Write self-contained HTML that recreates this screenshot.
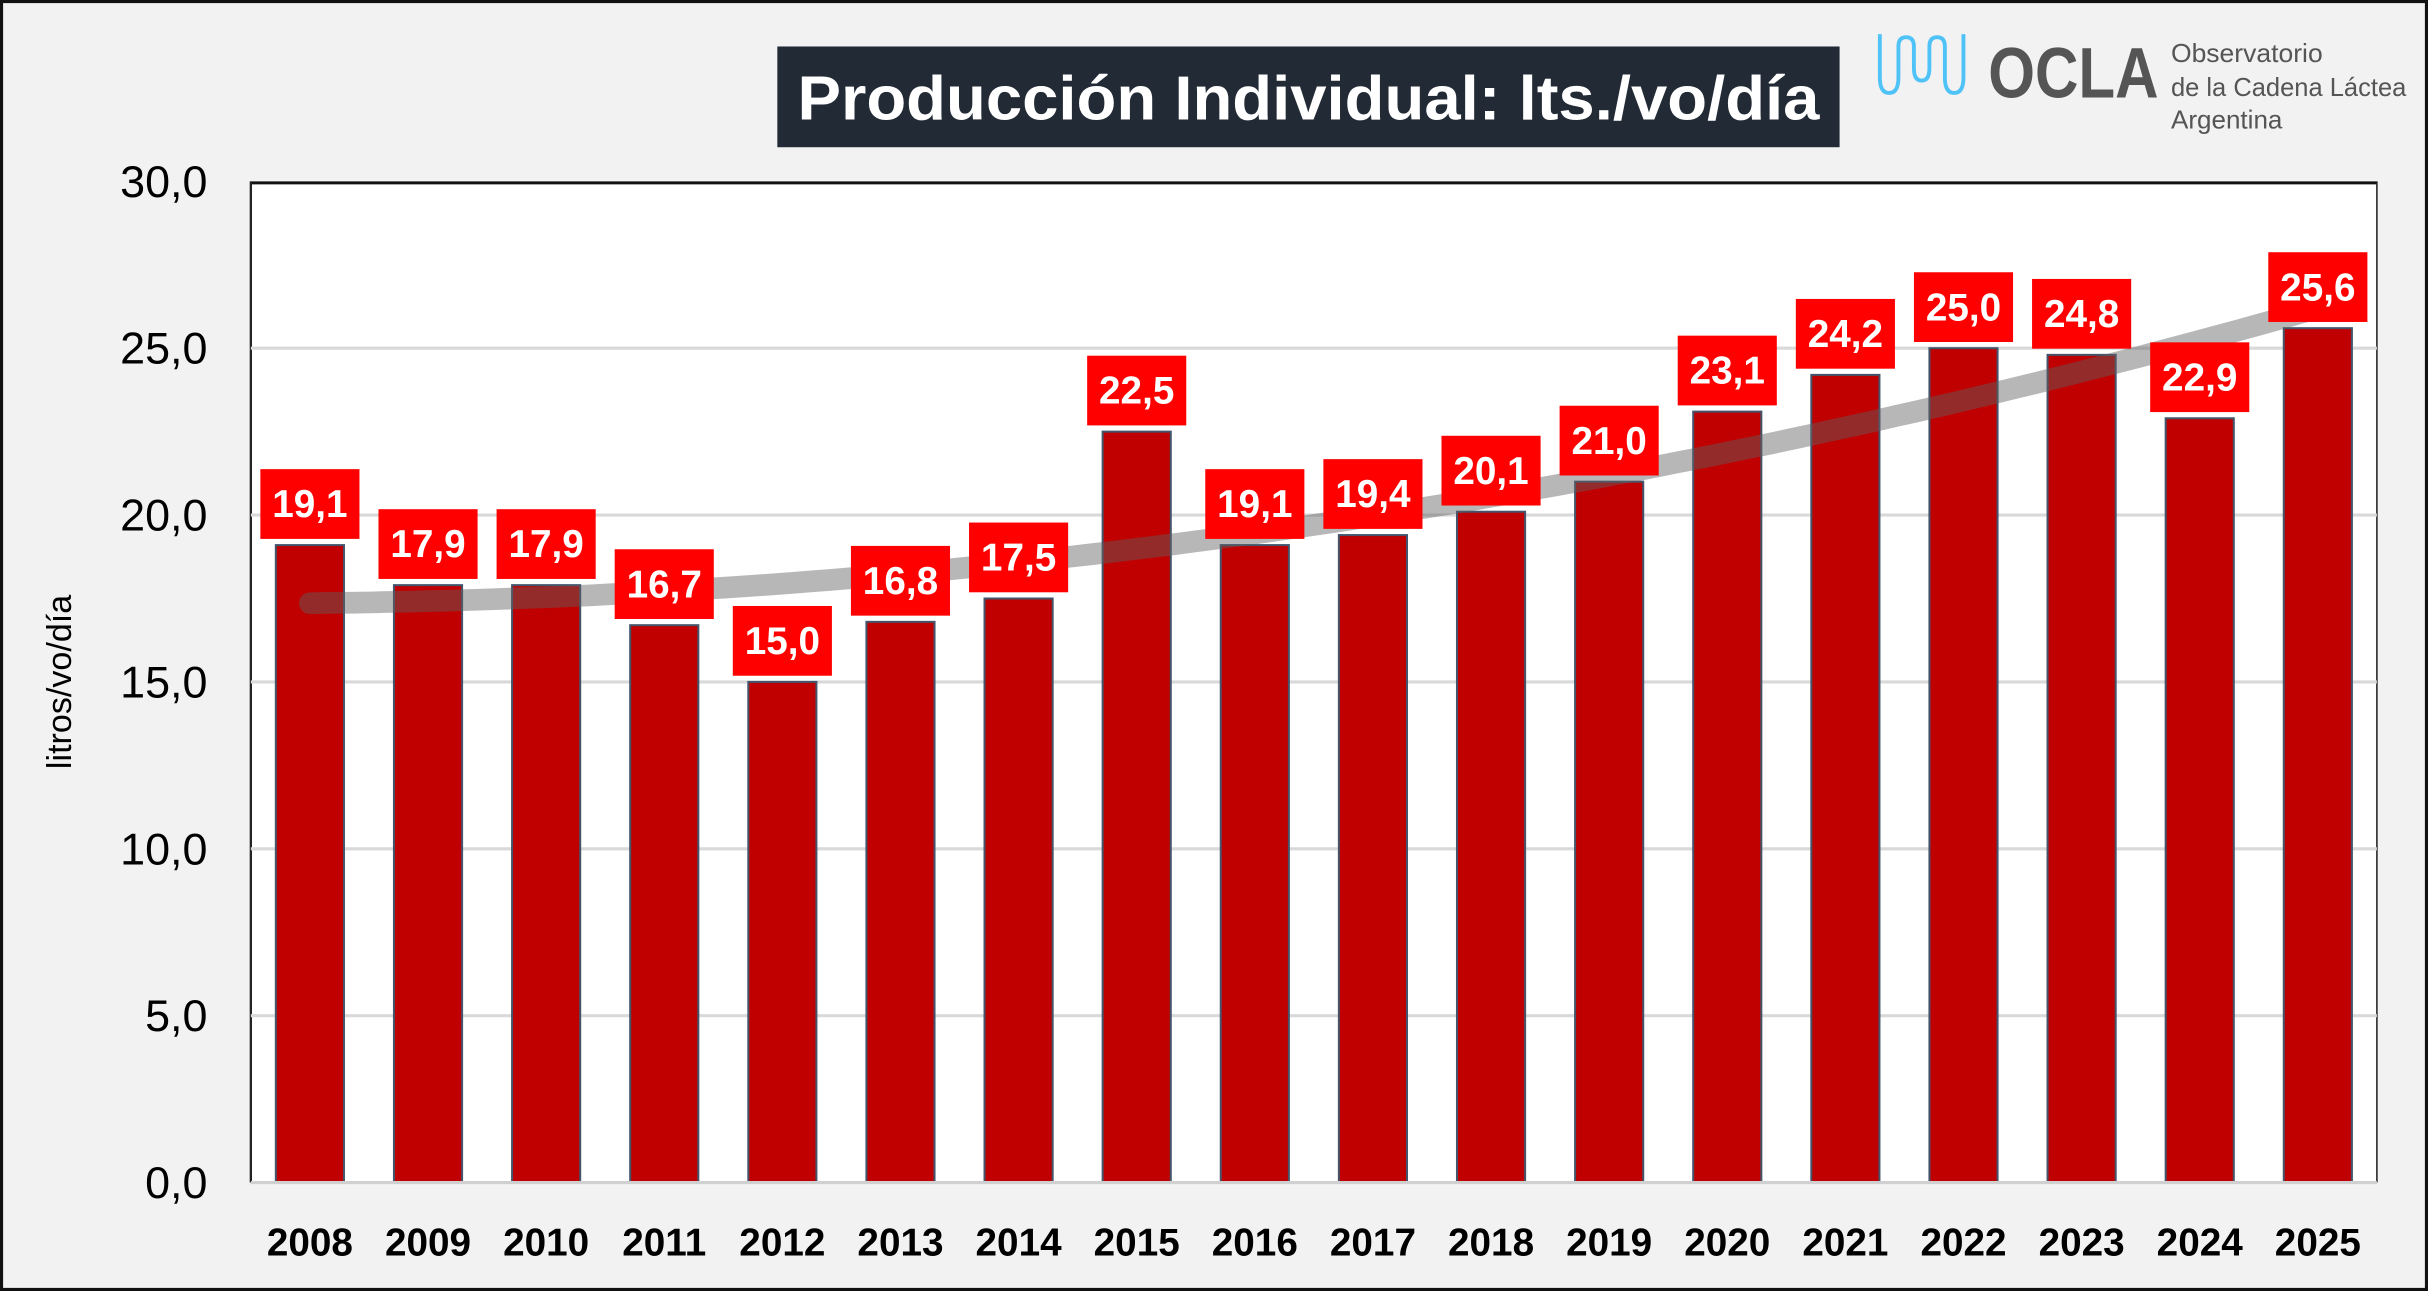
<!DOCTYPE html>
<html><head><meta charset="utf-8"><style>
html,body{margin:0;padding:0;background:#f2f2f2;}
svg{display:block;font-family:"Liberation Sans Narrow","Liberation Sans",sans-serif;}
</style></head><body>
<svg id="chart" width="2428" height="1291" viewBox="0 0 1568 833" preserveAspectRatio="none" xmlns="http://www.w3.org/2000/svg">
<rect x="1" y="1" width="1566" height="831" fill="#f2f2f2" stroke="#111" stroke-width="2"/>
<rect x="502" y="30" width="686" height="65" fill="#222a35"/>
<text x="845" y="77" text-anchor="middle" font-size="40" font-weight="bold" fill="#fff" textLength="660" lengthAdjust="spacingAndGlyphs">Producción Individual: lts./vo/día</text>
<g>
<path d="M1214 22 v28 q0 10 6 10 q6 0 6-10 v-20 q0-6 5-6 q5 0 5 6 v14 q0 8 5 8 q5 0 5-8 v-14 q0-6 5-6 q5 0 5 6 v20 q0 10 6 10 q6 0 6-10 v-28" fill="none" stroke="#4fc3f7" stroke-width="2.5"/>
<text x="1284" y="63" font-size="46" font-weight="bold" fill="#555" textLength="110" lengthAdjust="spacingAndGlyphs">OCLA</text>
<text x="1402" y="40" font-size="17" fill="#555" textLength="98" lengthAdjust="spacingAndGlyphs">Observatorio</text>
<text x="1402" y="62" font-size="17" fill="#555" textLength="152" lengthAdjust="spacingAndGlyphs">de la Cadena Láctea</text>
<text x="1402" y="83" font-size="17" fill="#555" textLength="72" lengthAdjust="spacingAndGlyphs">Argentina</text>
</g>
<rect x="162" y="117" width="1373" height="646" fill="#fff"/>
<line x1="162" y1="118" x2="1535" y2="118" stroke="#111" stroke-width="2"/>
<line x1="162" y1="117" x2="162" y2="763" stroke="#222" stroke-width="1.5"/>
<line x1="1535" y1="117" x2="1535" y2="763" stroke="#222" stroke-width="1"/>
<g id="grid"></g>
<g id="bars"></g>
<g id="trend"></g>
<g id="labels"></g>
<g id="axes"></g>
<text transform="translate(46,440) rotate(-90)" text-anchor="middle" font-size="22" fill="#000" font-family="'Liberation Sans',sans-serif">litros/vo/día</text>
</svg>
<script>
const categories = ["2008","2009","2010","2011","2012","2013","2014","2015","2016","2017","2018","2019","2020","2021","2022","2023","2024","2025"];
const values = [19.1,17.9,17.9,16.7,15.0,16.8,17.5,22.5,19.1,19.4,20.1,21.0,23.1,24.2,25.0,24.8,22.9,25.6];
const valueLabels = ["19,1","17,9","17,9","16,7","15,0","16,8","17,5","22,5","19,1","19,4","20,1","21,0","23,1","24,2","25,0","24,8","22,9","25,6"];
const yTicks = [0,5,10,15,20,25,30];
const yTickLabels = ["0,0","5,0","10,0","15,0","20,0","25,0","30,0"];

const NS="http://www.w3.org/2000/svg";
const L=162,R=1535,T=117,B=763,YMAX=30;
const y=v=>B-(v/YMAX)*(B-T);
const step=(R-L)/categories.length;
const x=i=>L+step*(i+0.5);
function mk(tag,attrs,parent){const e=document.createElementNS(NS,tag);for(const k in attrs)e.setAttribute(k,attrs[k]);parent.appendChild(e);return e;}
const grid=document.getElementById('grid'),bars=document.getElementById('bars'),trend=document.getElementById('trend'),labels=document.getElementById('labels'),axes=document.getElementById('axes');

yTicks.forEach((t,i)=>{
  if(t>0&&t<YMAX){const g=mk('line',{x1:L,x2:R,y1:y(t),y2:y(t),stroke:'#d9d9d9','stroke-width':2},grid);
  
  }
  const tx=mk('text',{x:134,y:y(t)+10,'text-anchor':'end','font-size':29,fill:'#000'},axes);
  tx.textContent=yTickLabels[i];
  
  
});
const base=mk('line',{x1:L,x2:R,y1:B,y2:B,stroke:'#d0d0d0','stroke-width':2},axes);



const bw=44;
categories.forEach((c,i)=>{
  const b=mk('rect',{x:x(i)-bw/2,y:y(values[i]),width:bw,height:B-y(values[i]),fill:'#c00000',stroke:'#44546a','stroke-width':1.3},bars);
  
  
  const xl=mk('text',{x:x(i),y:810,'text-anchor':'middle','font-size':25,'font-weight':'bold',fill:'#000'},axes);
  xl.textContent=c;
  
  
});

// quadratic trendline fit from data
(function(){
  const n=values.length,D=3;
  const A=[];for(let r=0;r<D;r++){A.push(new Array(D+1).fill(0));}
  for(let i=0;i<n;i++){const t=i+1;for(let r=0;r<D;r++){for(let k=0;k<D;k++)A[r][k]+=Math.pow(t,r+k);A[r][D]+=values[i]*Math.pow(t,r);}}
  for(let i=0;i<D;i++){for(let j=i+1;j<D;j++){const f=A[j][i]/A[i][i];for(let k=i;k<=D;k++)A[j][k]-=f*A[i][k];}}
  const c=new Array(D).fill(0);for(let i=D-1;i>=0;i--){let s=A[i][D];for(let k=i+1;k<D;k++)s-=A[i][k]*c[k];c[i]=s/A[i][i];}
  let d='';for(let s=0;s<=100;s++){const t=1+(n-1)*s/100;let v=0;for(let k=0;k<D;k++)v+=c[k]*Math.pow(t,k);const px=x(t-1);d+=(s?'L':'M')+px.toFixed(1)+' '+y(v).toFixed(1);}
  const p=mk('path',{d:d,fill:'none',stroke:'#606060','stroke-opacity':0.45,'stroke-width':14,'stroke-linecap':'round'},trend);
  
  
})();

categories.forEach((c,i)=>{
  const top=y(values[i]);
  const r=mk('rect',{x:x(i)-32,y:top-49,width:64,height:45,fill:'#ff0000'},labels);
  
  
  const t=mk('text',{x:x(i),y:top-18,'text-anchor':'middle','font-size':25,'font-weight':'bold',fill:'#fff'},labels);
  t.textContent=valueLabels[i];
  
  
});
</script>
</body></html>
